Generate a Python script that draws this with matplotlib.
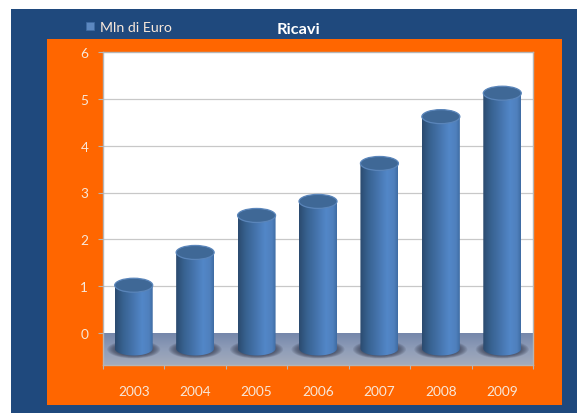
import numpy as np
import matplotlib
matplotlib.use("Agg")
import matplotlib.pyplot as plt
from matplotlib.colors import LinearSegmentedColormap
from matplotlib.patches import Ellipse, PathPatch, Rectangle
from matplotlib.path import Path

years = ["2003", "2004", "2005", "2006", "2007", "2008", "2009"]
ricavi = [1.02, 1.72, 2.51, 2.81, 3.62, 4.62, 5.12]
y_ticks = [0, 1, 2, 3, 4, 5, 6]
title_text = "Ricavi"
legend_text = "Mln di Euro"

W, H = 577, 414
plt.rcParams["font.family"] = ["Lato", "DejaVu Sans"]
TXT = "#f8e8da"
fig = plt.figure(figsize=(W / 100, H / 100), dpi=100, facecolor="white")


def fig_rect(x0, y0, x1, y1, color, z=-2):
    fig.add_artist(Rectangle((x0 / W, 1 - y1 / H), (x1 - x0) / W, (y1 - y0) / H,
                             transform=fig.transFigure, facecolor=color,
                             edgecolor="none", zorder=z))


fig_rect(11, 10, 577, 414, "#1f497d", -2)
fig_rect(47, 40, 562, 406, "#ff6600", -1)

ax = fig.add_axes([103 / W, 1 - 366 / H, (533 - 103) / W, (366 - 53) / H])
ax.patch.set_facecolor("white")
y_floor = -(366 - 334) / ((334 - 53) / 6)
base = -(349.5 - 334) / ((334 - 53) / 6)
xlim = (-0.5, 6.5)
ylim = (y_floor, 6)

# floor
floor_cm = LinearSegmentedColormap.from_list("floor", ["#7587ab", "#8f9db8", "#a3abbb"])
ax.imshow(np.linspace(0, 1, 64)[:, None], extent=(xlim[0], xlim[1], y_floor, 0), origin="upper",
          cmap=floor_cm, aspect="auto", zorder=1)

# gridlines
ax.hlines(y_ticks[1:-1], xlim[0], xlim[1], color="#c8c8c8", lw=0.9, zorder=0.8)

bar_w = 38 / ((533 - 103) / 7)
ell_h = 14 / ((334 - 53) / 6)
cyl_cm = LinearSegmentedColormap.from_list(
    "cyl", [(0, "#2b4a6f"), (0.2, "#37618f"), (0.5, "#4776b0"), (0.72, "#5287c8"),
            (0.9, "#4f80bd"), (1, "#3f6ca3")])
grad = np.linspace(0, 1, 128)[None, :]

for i, v in enumerate(ricavi):
    # soft shadow on floor
    for k in range(8):
        f = 1 - k / 8 * 0.35
        ax.add_patch(Ellipse((i, base - 0.02), (53 / 61.43) * f, (18 / 46.83) * f,
                             facecolor="#30354a", edgecolor="none", alpha=0.13, zorder=2))
    a, b = bar_w / 2, ell_h / 2
    t = np.linspace(np.pi, 2 * np.pi, 50)
    xs = np.r_[i + a * np.cos(t), i + a, i - a, i - a]
    ys = np.r_[base + b * np.sin(t), v, v, base]
    clip = PathPatch(Path(np.c_[xs, ys]), facecolor="none", edgecolor="none", zorder=3)
    ax.add_patch(clip)
    im = ax.imshow(grad, extent=(i - a, i + a, base - b, v), cmap=cyl_cm, aspect="auto", zorder=3)
    im.set_clip_path(clip)
    ax.add_patch(Ellipse((i, v), bar_w, ell_h, facecolor="#3f6896", edgecolor="#5a85ba",
                         lw=0.9, zorder=4))

ax.set_xlim(*xlim)
ax.set_ylim(*ylim)

ax.set_xticks(range(len(years)), years)
ax.set_xticks(np.arange(-0.5, 7, 1), minor=True)
ax.tick_params(axis="x", which="major", length=0, pad=14.5, labelsize=9.8, labelcolor=TXT)
ax.tick_params(axis="x", which="minor", length=3, color="#b5b5b5", width=0.8)
ax.set_yticks(y_ticks)
ax.tick_params(axis="y", length=3.6, pad=7, labelsize=9.8, labelcolor=TXT, color="#b5b5b5", width=0.8)
for s in ax.spines.values():
    s.set_color("#b5b5b5")
    s.set_linewidth(1.0)

# title and legend
fig.text(298.5 / W, 1 - 30 / H, title_text, color="white", fontsize=11.8, fontweight="bold",
         ha="center", va="center", zorder=5)
fig.text(100 / W, 1 - 28 / H, legend_text, color=TXT, fontsize=10.2, ha="left", va="center", zorder=5)
fig.add_artist(Rectangle((86 / W, 1 - 31 / H), 8 / W, 8 / H, transform=fig.transFigure,
                         facecolor="#5c88c0", edgecolor="#3f6ca3", lw=0.5, zorder=5))

fig.savefig("out.png", dpi=100, facecolor="white")
